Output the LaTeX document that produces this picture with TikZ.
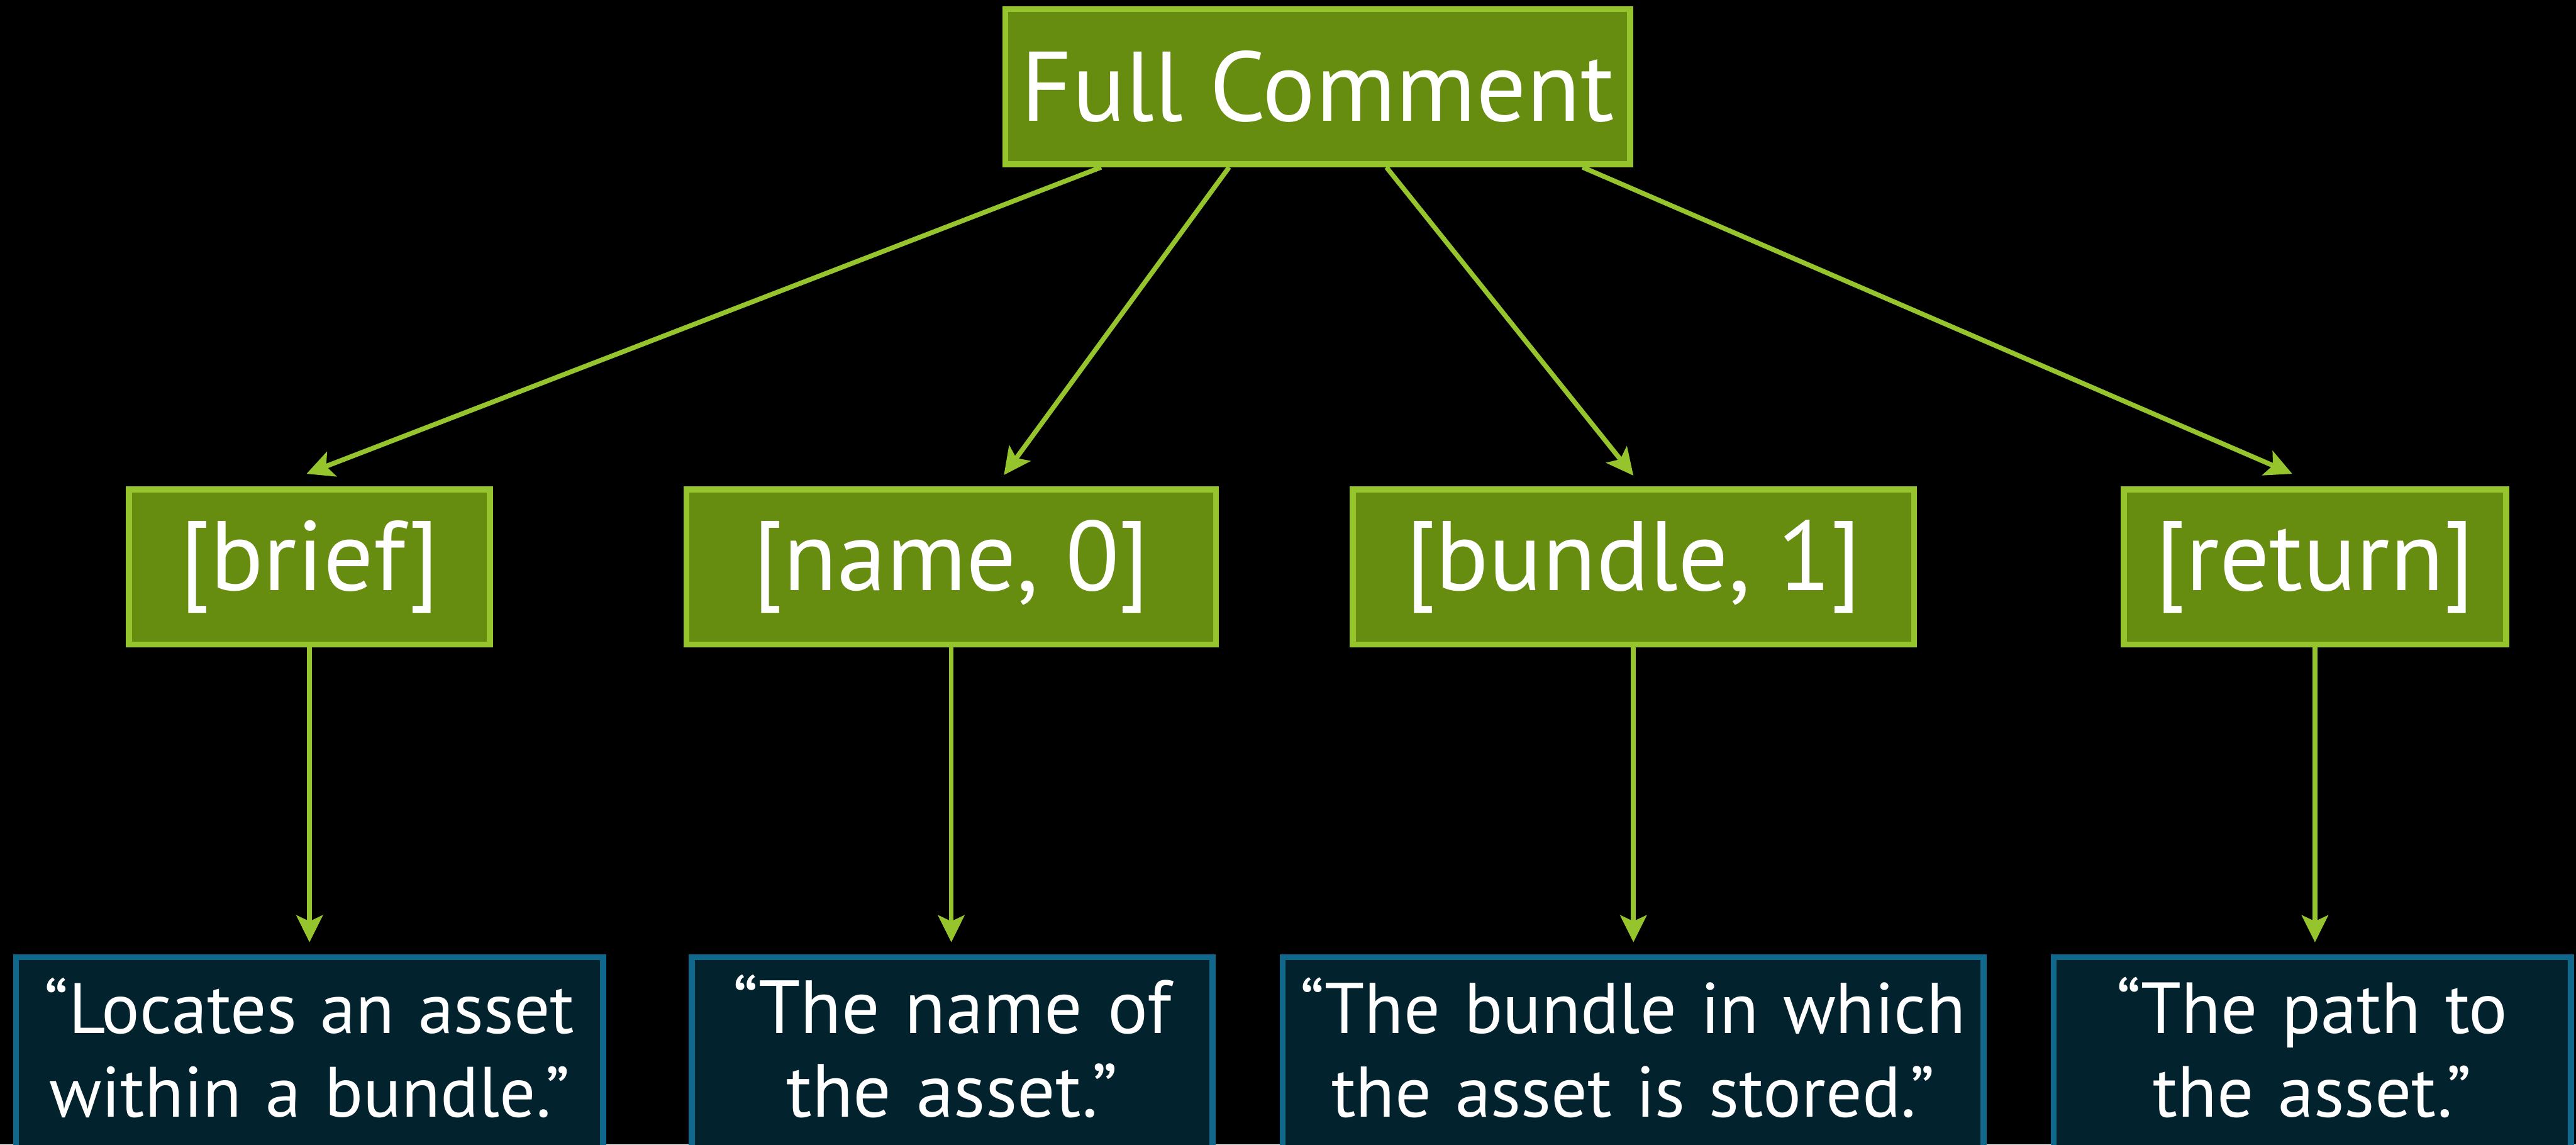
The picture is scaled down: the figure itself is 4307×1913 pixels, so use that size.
\documentclass[tikz,border=0pt]{standalone}
\usepackage{fontspec}
\setmainfont{PT Sans}
\usetikzlibrary{arrows.meta}
\usetikzlibrary{calc}
\definecolor{leaf}{RGB}{150,196,44}
\definecolor{moss}{RGB}{102,140,16}
\definecolor{sea}{RGB}{16,105,140}
\definecolor{ink}{RGB}{2,34,46}
\tikzset{tag/.style={draw=leaf,fill=moss,line width=0.1cm,text=white,inner sep=0pt,minimum height=2.59cm,font=\fontsize{47}{47}\selectfont}}
\tikzset{doc/.style={draw=sea,fill=ink,line width=0.1cm,text=white,inner sep=0pt,align=center,text height=1.27cm,text depth=3cm,anchor=base}}
\tikzset{link/.style={leaf,line width=0.08cm,-{Stealth[length=0.45cm,width=0.44cm,inset=0.1cm]}}}

\begin{document}
\begin{tikzpicture}[x=0.01cm,y=-0.01cm]
        \fill[black] (0,0) rectangle (4307,1913);
        \useasboundingbox (0,0) rectangle (4307,1913);
        % comment tree
        \node[tag,minimum width=10.44cm] (full) at (2203,145) {Full Comment};
        \node[tag,minimum width=6.03cm] (brief) at (517.5,947.5) {[brief]};
        \node[tag,minimum width=8.85cm] (name0) at (1590.5,947.5) {[name, 0]};
        \node[tag,minimum width=9.38cm] (bundle1) at (2731,947.5) {[bundle, 1]};
        \node[tag,minimum width=6.39cm] (ret) at (3870.5,947.5) {[return]};
        % paragraph texts
        \node[doc,text width=9.81cm,font=\fontsize{33.9}{39.83}\selectfont] (briefdoc) at (517.5,1727) {“Locates an asset\\within a bundle.”};
        \node[doc,text width=8.70cm,font=\fontsize{35.8}{39.83}\selectfont] (namedoc) at (1592,1727) {“The name of\\the asset.”};
        \node[doc,text width=11.71cm,font=\fontsize{34.1}{39.83}\selectfont] (bundledoc) at (2730.5,1727) {“The bundle in which\\the asset is stored.”};
        \node[doc,text width=8.64cm,font=\fontsize{34.4}{39.83}\selectfont] (retdoc) at (3866,1727) {“The path to\\the asset.”};
        % arrows
        \draw[link] ($(full.south)+(-362,0)$) -- ($(brief.north)+(-5,-21)$);
        \draw[link] ($(full.south)+(-148,0)$) -- ($(name0.north)+(88,-19)$);
        \draw[link] ($(full.south)+(115,0)$) -- ($(bundle1.north)+(0,-18)$);
        \draw[link] ($(full.south)+(443,0)$) -- ($(ret.north)+(-38,-21)$);
        \draw[link] (brief.south) -- ($(brief.south |- briefdoc.north)+(0,-20)$);
        \draw[link] (name0.south) -- ($(name0.south |- namedoc.north)+(0,-20)$);
        \draw[link] (bundle1.south) -- ($(bundle1.south |- bundledoc.north)+(0,-20)$);
        \draw[link] (ret.south) -- ($(ret.south |- retdoc.north)+(0,-20)$);
\end{tikzpicture}
\end{document}
